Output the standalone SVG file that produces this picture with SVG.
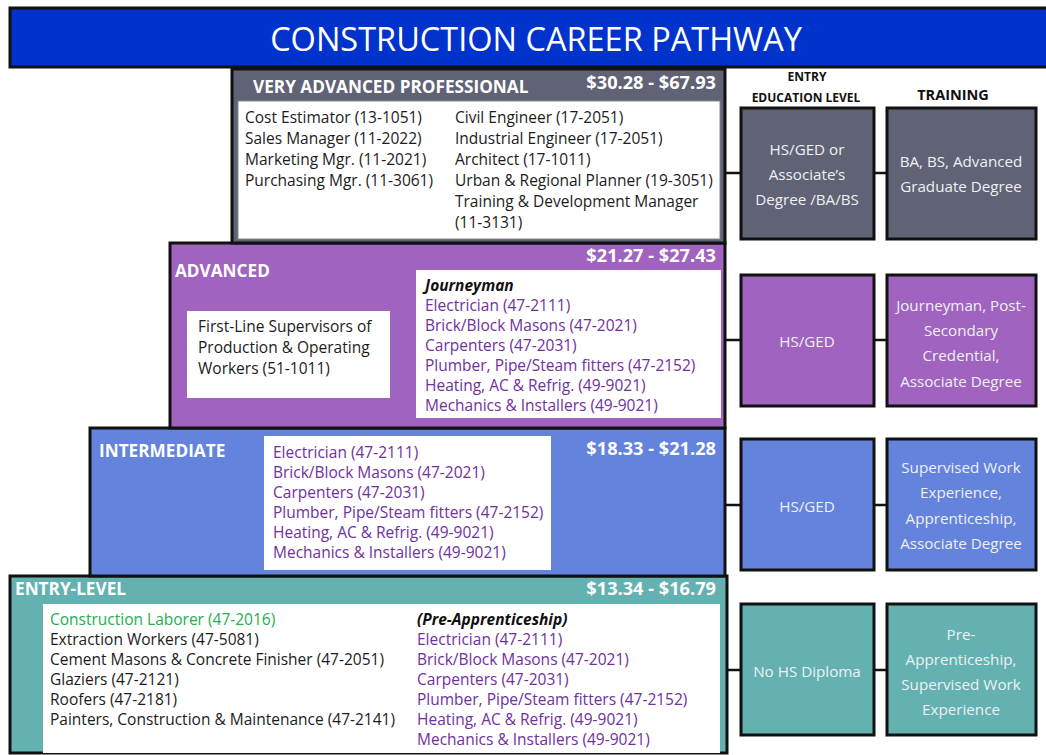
<svg xmlns="http://www.w3.org/2000/svg" width="1046" height="755" viewBox="0 0 1046 755">
  <style>
    text { font-family: "Open Sans", "Liberation Sans", sans-serif; }
    .tier { stroke: #111; stroke-width: 3; }
    .edu { stroke: #111; stroke-width: 3; }
    .panel { fill: #fff; }
    .hdr { fill: #fff; font-weight: 700; font-size: 17.2px; }
    .pay { fill: #fff; font-weight: 700; font-size: 18.2px; text-anchor: end; }
    .body { fill: #1c1c1c; font-size: 15.5px; }
    .trade { fill: #7030a0; font-size: 15.5px; }
    .lead { fill: #111; font-size: 15.5px; font-weight: 700; font-style: italic; }
    .green { fill: #22b04f; font-size: 15.5px; }
    .cap { fill: #111; font-weight: 700; text-anchor: middle; }
    .boxtxt { fill: #eef0f4; font-size: 15.2px; text-anchor: middle; }
    .gray { fill: #5f6375; }
    .purple { fill: #a063bf; }
    .blue { fill: #6383dc; }
    .teal { fill: #64b1b1; }
    .wire { stroke: #111; stroke-width: 2.5; fill: none; }
  </style>

  <!-- banner -->
  <g id="title">
    <rect x="10" y="8" width="1040" height="59" fill="#0033cc" stroke="#111" stroke-width="3"/>
    <text x="536" y="51" fill="#fff" font-size="32.5" text-anchor="middle">CONSTRUCTION CAREER PATHWAY</text>
  </g>

  <!-- connectors between tiers, education and training -->
  <g id="connectors">
    <line class="wire" x1="725" y1="173" x2="741" y2="173"/>
    <line class="wire" x1="874" y1="173" x2="887" y2="173"/>
    <line class="wire" x1="725" y1="340" x2="741" y2="340"/>
    <line class="wire" x1="874" y1="340" x2="887" y2="340"/>
    <line class="wire" x1="725" y1="505" x2="741" y2="505"/>
    <line class="wire" x1="874" y1="505" x2="887" y2="505"/>
    <line class="wire" x1="727" y1="670" x2="741" y2="670"/>
    <line class="wire" x1="874" y1="670" x2="887" y2="670"/>
  </g>

  <!-- entry level tier -->
  <g id="tier-entry">
    <rect class="tier teal" x="10" y="576" width="717" height="177"/>
    <rect class="panel" x="43" y="604" width="677" height="149"/>
    <text class="hdr" x="15" y="595">ENTRY-LEVEL</text>
    <text class="pay" x="716" y="595">$13.34 - $16.79</text>
    <text class="green" x="50" y="625">Construction Laborer (47-2016)</text>
    <text class="body" x="50" y="645">Extraction Workers (47-5081)</text>
    <text class="body" x="50" y="665">Cement Masons &amp; Concrete Finisher (47-2051)</text>
    <text class="body" x="50" y="685">Glaziers (47-2121)</text>
    <text class="body" x="50" y="705">Roofers (47-2181)</text>
    <text class="body" x="50" y="725">Painters, Construction &amp; Maintenance (47-2141)</text>
    <text class="lead" x="417" y="625">(Pre-Apprenticeship)</text>
    <text class="trade" x="417" y="645">Electrician (47-2111)</text>
    <text class="trade" x="417" y="665">Brick/Block Masons (47-2021)</text>
    <text class="trade" x="417" y="685">Carpenters (47-2031)</text>
    <text class="trade" x="417" y="705">Plumber, Pipe/Steam fitters (47-2152)</text>
    <text class="trade" x="417" y="725">Heating, AC &amp; Refrig. (49-9021)</text>
    <text class="trade" x="417" y="745">Mechanics &amp; Installers (49-9021)</text>
  </g>

  <!-- intermediate tier -->
  <g id="tier-intermediate">
    <rect class="tier blue" x="90" y="428" width="635" height="148"/>
    <rect class="panel" x="264" y="436" width="287" height="134"/>
    <text class="hdr" x="99" y="457">INTERMEDIATE</text>
    <text class="pay" x="716" y="455">$18.33 - $21.28</text>
    <text class="trade" x="273" y="458">Electrician (47-2111)</text>
    <text class="trade" x="273" y="478">Brick/Block Masons (47-2021)</text>
    <text class="trade" x="273" y="498">Carpenters (47-2031)</text>
    <text class="trade" x="273" y="518">Plumber, Pipe/Steam fitters (47-2152)</text>
    <text class="trade" x="273" y="538">Heating, AC &amp; Refrig. (49-9021)</text>
    <text class="trade" x="273" y="558">Mechanics &amp; Installers (49-9021)</text>
  </g>

  <!-- advanced tier -->
  <g id="tier-advanced">
    <rect class="tier purple" x="170" y="243" width="555" height="185"/>
    <rect class="panel" x="187" y="311" width="203" height="87"/>
    <rect class="panel" x="416" y="270" width="305" height="148"/>
    <text class="hdr" x="175" y="277">ADVANCED</text>
    <text class="pay" x="716" y="262">$21.27 - $27.43</text>
    <text class="body" x="198" y="332">First-Line Supervisors of</text>
    <text class="body" x="198" y="353">Production &amp; Operating</text>
    <text class="body" x="198" y="374">Workers (51-1011)</text>
    <text class="lead" x="425" y="291">Journeyman</text>
    <text class="trade" x="425" y="311">Electrician (47-2111)</text>
    <text class="trade" x="425" y="331">Brick/Block Masons (47-2021)</text>
    <text class="trade" x="425" y="351">Carpenters (47-2031)</text>
    <text class="trade" x="425" y="371">Plumber, Pipe/Steam fitters (47-2152)</text>
    <text class="trade" x="425" y="391">Heating, AC &amp; Refrig. (49-9021)</text>
    <text class="trade" x="425" y="411">Mechanics &amp; Installers (49-9021)</text>
  </g>

  <!-- very advanced professional tier -->
  <g id="tier-professional">
    <rect class="tier gray" x="232" y="69" width="493" height="174"/>
    <rect class="panel" x="238" y="101" width="482" height="138" stroke="#888" stroke-width="1"/>
    <text class="hdr" x="253" y="93">VERY ADVANCED PROFESSIONAL</text>
    <text class="pay" x="716" y="89">$30.28 - $67.93</text>
    <text class="body" x="245" y="123">Cost Estimator (13-1051)</text>
    <text class="body" x="245" y="144">Sales Manager (11-2022)</text>
    <text class="body" x="245" y="165">Marketing Mgr. (11-2021)</text>
    <text class="body" x="245" y="186">Purchasing Mgr. (11-3061)</text>
    <text class="body" x="455" y="123">Civil Engineer (17-2051)</text>
    <text class="body" x="455" y="144">Industrial Engineer (17-2051)</text>
    <text class="body" x="455" y="165">Architect (17-1011)</text>
    <text class="body" x="455" y="186">Urban &amp; Regional Planner (19-3051)</text>
    <text class="body" x="455" y="207">Training &amp; Development Manager</text>
    <text class="body" x="455" y="228">(11-3131)</text>
  </g>

  <!-- column captions -->
  <g id="captions">
    <text class="cap" x="807" y="81" font-size="12">ENTRY</text>
    <text class="cap" x="806" y="102" font-size="12">EDUCATION LEVEL</text>
    <text class="cap" x="953" y="100" font-size="14.5">TRAINING</text>
  </g>

  <!-- education / training boxes -->
  <g id="edu-professional">
    <rect class="edu gray" x="741" y="108" width="133" height="131"/>
    <text class="boxtxt" x="807" y="155">HS/GED or</text>
    <text class="boxtxt" x="807" y="180">Associate’s</text>
    <text class="boxtxt" x="807" y="205">Degree /BA/BS</text>
  </g>
  <g id="train-professional">
    <rect class="edu gray" x="887" y="108" width="149" height="131"/>
    <text class="boxtxt" x="961" y="167">BA, BS, Advanced</text>
    <text class="boxtxt" x="961" y="192">Graduate Degree</text>
  </g>

  <g id="edu-advanced">
    <rect class="edu purple" x="741" y="275" width="133" height="131"/>
    <text class="boxtxt" x="807" y="347">HS/GED</text>
  </g>
  <g id="train-advanced">
    <rect class="edu purple" x="887" y="275" width="149" height="131"/>
    <text class="boxtxt" x="961" y="311">Journeyman, Post-</text>
    <text class="boxtxt" x="961" y="336">Secondary</text>
    <text class="boxtxt" x="961" y="361">Credential,</text>
    <text class="boxtxt" x="961" y="387">Associate Degree</text>
  </g>

  <g id="edu-intermediate">
    <rect class="edu blue" x="741" y="439" width="133" height="131"/>
    <text class="boxtxt" x="807" y="512">HS/GED</text>
  </g>
  <g id="train-intermediate">
    <rect class="edu blue" x="887" y="439" width="149" height="131"/>
    <text class="boxtxt" x="961" y="473">Supervised Work</text>
    <text class="boxtxt" x="961" y="498">Experience,</text>
    <text class="boxtxt" x="961" y="524">Apprenticeship,</text>
    <text class="boxtxt" x="961" y="549">Associate Degree</text>
  </g>

  <g id="edu-entry">
    <rect class="edu teal" x="741" y="604" width="133" height="131"/>
    <text class="boxtxt" x="807" y="677">No HS Diploma</text>
  </g>
  <g id="train-entry">
    <rect class="edu teal" x="887" y="604" width="149" height="131"/>
    <text class="boxtxt" x="961" y="640">Pre-</text>
    <text class="boxtxt" x="961" y="665">Apprenticeship,</text>
    <text class="boxtxt" x="961" y="690">Supervised Work</text>
    <text class="boxtxt" x="961" y="715">Experience</text>
  </g>
</svg>
